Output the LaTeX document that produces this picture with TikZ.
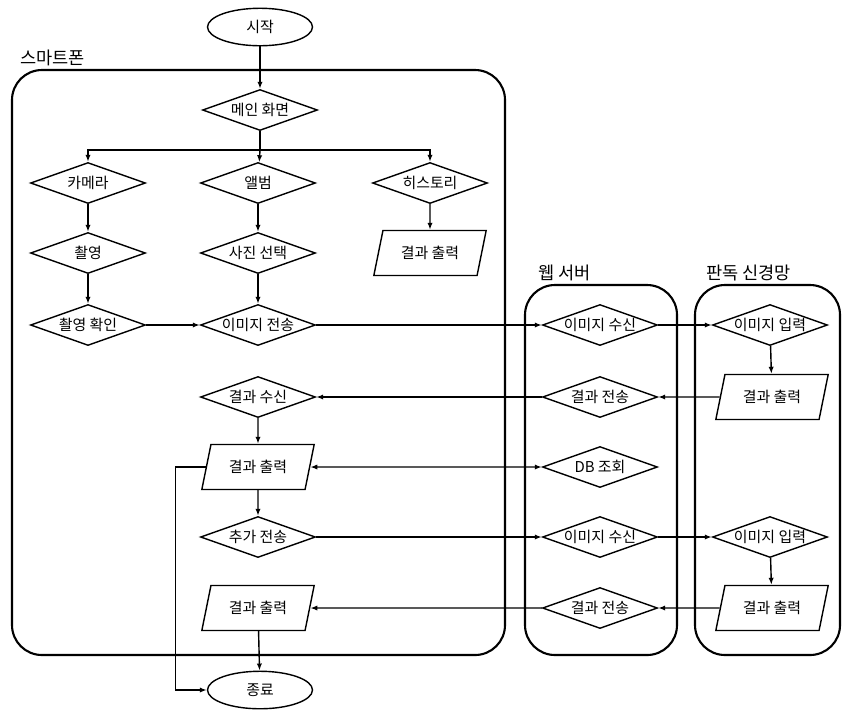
\documentclass[tikz,border=0pt]{standalone}
\usepackage{fontspec}
\setmainfont{Noto Sans CJK KR}
\usetikzlibrary{arrows.meta,shapes.geometric}
\tikzset{
  choice/.style={diamond,draw,thick,aspect=2.8,minimum width=2.3cm,
    minimum height=0.82cm,inner sep=0pt,font=\fontsize{8.5}{9}\selectfont},
  io/.style={trapezium,trapezium left angle=75,trapezium right angle=105,
    trapezium stretches=true,draw,thick,minimum width=2.25cm,
    minimum height=0.9cm,font=\fontsize{8.5}{9}\selectfont},
  terminal/.style={ellipse,draw,thick,minimum width=2.1cm,
    minimum height=0.75cm,font=\fontsize{8.5}{9}\selectfont},
  lane/.style={draw,very thick,rounded corners=0.6cm},
  lanetitle/.style={anchor=south west,inner sep=1pt,font=\fontsize{10}{11}\selectfont},
  flow/.style={-{Latex[length=4pt,width=3pt]},thick},
  twoway/.style={{Latex[length=4pt,width=3pt]}-{Latex[length=4pt,width=3pt]},thick}
}
\begin{document}
\begin{tikzpicture}[x=0.02cm,y=-0.02cm]
  \useasboundingbox (0,0) rectangle (844,718);
  % swimlanes
  \draw[lane] (12,70) rectangle (505,655);
  \draw[lane] (525,285) rectangle (677,655);
  \draw[lane] (695,285) rectangle (840,655);
  \node[lanetitle] (phone) at (18,68) {스마트폰};
  \node[lanetitle] (server) at (536,283) {웹 서버};
  \node[lanetitle] (net) at (704,283) {판독 신경망};

  % smartphone
  \node[terminal] (start) at (260,27) {시작};
  \node[choice] (main) at (260,110) {메인 화면};
  \node[choice] (cam) at (88,183) {카메라};
  \node[choice] (album) at (258,183) {앨범};
  \node[choice] (hist) at (430,183) {히스토리};
  \node[choice] (shoot) at (88,253) {촬영};
  \node[choice] (pick) at (258,253) {사진 선택};
  \node[io] (histout) at (430,253) {결과 출력};
  \node[choice] (shootok) at (88,325) {촬영 확인};
  \node[choice] (send) at (258,325) {이미지 전송};
  \node[choice] (recv) at (258,397) {결과 수신};
  \node[io] (out1) at (258,467) {결과 출력};
  \node[choice] (resend) at (258,537) {추가 전송};
  \node[io] (out2) at (258,608) {결과 출력};
  \node[terminal] (end) at (260,690) {종료};

  % web server
  \node[choice] (srecv1) at (600,325) {이미지 수신};
  \node[choice] (ssend1) at (600,397) {결과 전송};
  \node[choice] (db) at (600,467) {DB 조회};
  \node[choice] (srecv2) at (600,537) {이미지 수신};
  \node[choice] (ssend2) at (600,608) {결과 전송};

  % neural network
  \node[choice] (nin1) at (770,325) {이미지 입력};
  \node[io] (nout1) at (772,397) {결과 출력};
  \node[choice] (nin2) at (770,537) {이미지 입력};
  \node[io] (nout2) at (772,608) {결과 출력};

  \coordinate (split) at (260,150);
  \draw[flow] (start) -- (main);
  \draw[thick] (main) -- (split);
  \draw[flow] (split) -| (cam);
  \draw[flow] (split) -- (album);
  \draw[flow] (split) -| (hist);
  \draw[flow] (cam) -- (shoot);
  \draw[flow] (shoot) -- (shootok);
  \draw[flow] (album) -- (pick);
  \draw[flow] (pick) -- (send);
  \draw[flow] (hist) -- (histout);
  \draw[flow] (shootok) -- (send);
  \draw[flow] (send) -- (srecv1);
  \draw[flow] (srecv1) -- (nin1);
  \draw[flow] (nin1) -- (nout1);
  \draw[flow] (nout1) -- (ssend1);
  \draw[flow] (ssend1) -- (recv);
  \draw[flow] (recv) -- (out1);
  \draw[twoway] (out1) -- (db);
  \draw[flow] (out1) -- (resend);
  \draw[flow] (out1.west) -- ++(-30,0) |- (end);
  \draw[flow] (resend) -- (srecv2);
  \draw[flow] (srecv2) -- (nin2);
  \draw[flow] (nin2) -- (nout2);
  \draw[flow] (nout2) -- (ssend2);
  \draw[flow] (ssend2) -- (out2);
  \draw[flow] (out2) -- (end);
\end{tikzpicture}
\end{document}
